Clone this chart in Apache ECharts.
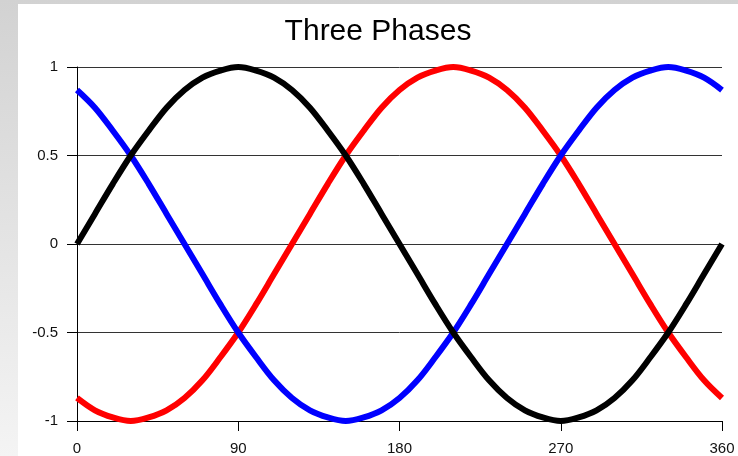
<!DOCTYPE html>
<html>
<head>
<meta charset="utf-8">
<script src="https://cdn.jsdelivr.net/npm/echarts@6/dist/echarts.min.js"></script>
<style>
  html, body { margin: 0; padding: 0; width: 738px; height: 456px; overflow: hidden;
    background: linear-gradient(to bottom, #d2d2d2, #f4f4f4); }
  #chart { position: absolute; left: 18px; top: 4px; width: 720px; height: 452px; background: #ffffff; }
</style>
</head>
<body>
<div id="chart"></div>
<script>
const degrees = [0,10,20,30,40,50,60,70,80,90,100,110,120,130,140,150,160,170,180,190,200,210,220,230,240,250,260,270,280,290,300,310,320,330,340,350,360];
const redValues = [-0.87,-0.94,-0.98,-1,-0.98,-0.94,-0.87,-0.77,-0.64,-0.5,-0.34,-0.17,0,0.17,0.34,0.5,0.64,0.77,0.87,0.94,0.98,1,0.98,0.94,0.87,0.77,0.64,0.5,0.34,0.17,0,-0.17,-0.34,-0.5,-0.64,-0.77,-0.87];
const blueValues = [0.87,0.77,0.64,0.5,0.34,0.17,0,-0.17,-0.34,-0.5,-0.64,-0.77,-0.87,-0.94,-0.98,-1,-0.98,-0.94,-0.87,-0.77,-0.64,-0.5,-0.34,-0.17,0,0.17,0.34,0.5,0.64,0.77,0.87,0.94,0.98,1,0.98,0.94,0.87];
const blackValues = [0,0.17,0.34,0.5,0.64,0.77,0.87,0.94,0.98,1,0.98,0.94,0.87,0.77,0.64,0.5,0.34,0.17,0,-0.17,-0.34,-0.5,-0.64,-0.77,-0.87,-0.94,-0.98,-1,-0.98,-0.94,-0.87,-0.77,-0.64,-0.5,-0.34,-0.17,0];
const xTicks = [0, 90, 180, 270, 360];
const yTicks = [-1, -0.5, 0, 0.5, 1];

const font = "'Liberation Sans', Arial, sans-serif";
function pairs(vals) { return degrees.map((d, i) => [d, vals[i]]); }
function series(name, vals, color, z) {
  return { name: name, type: 'line', data: pairs(vals), smooth: 0.35, showSymbol: false,
    z: z, lineStyle: { color: color, width: 6 }, itemStyle: { color: color }, animation: false };
}

const chart = echarts.init(document.getElementById('chart'), null, { renderer: 'canvas' });
chart.setOption({
  backgroundColor: 'transparent',
  animation: false,
  title: { text: 'Three Phases', left: 'center', top: 8,
    textStyle: { fontFamily: font, fontSize: 30, fontWeight: 'normal', color: '#000' } },
  grid: { left: 59, right: 16, top: 63, bottom: 34, containLabel: false },
  xAxis: { type: 'value', min: xTicks[0], max: xTicks[xTicks.length - 1], interval: 90,
    axisLine: { show: true, onZero: false, lineStyle: { color: '#000', width: 1 } },
    axisTick: { show: true, length: 10, lineStyle: { color: '#000' } },
    splitLine: { show: false },
    axisLabel: { fontFamily: font, fontSize: 15, color: '#111', margin: 20 } },
  yAxis: { type: 'value', min: yTicks[0], max: yTicks[yTicks.length - 1], interval: 0.5,
    axisLine: { show: true, lineStyle: { color: '#000', width: 1 } },
    axisTick: { show: true, length: 10, lineStyle: { color: '#000' } },
    splitLine: { show: true, lineStyle: { color: '#333', width: 1 } },
    axisLabel: { fontFamily: font, fontSize: 15, color: '#111', margin: 19 } },
  series: [
    series('Phase 2', redValues, '#ff0000', 2),
    series('Phase 3', blueValues, '#0000ff', 3),
    series('Phase 1', blackValues, '#000000', 4)
  ]
});
</script>
</body>
</html>
